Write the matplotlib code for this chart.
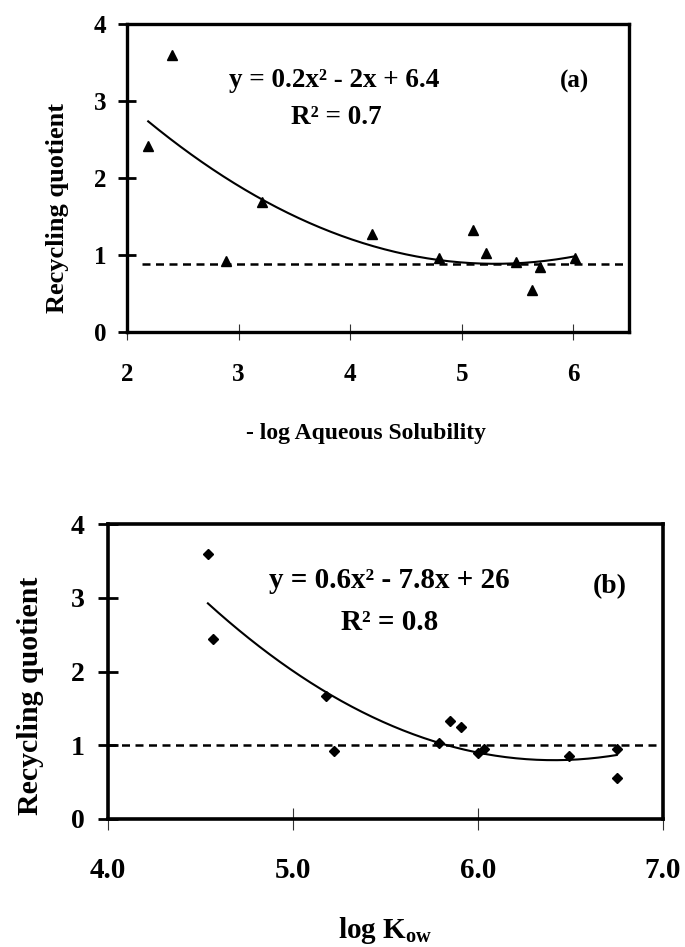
import numpy as np
import matplotlib
matplotlib.use("Agg")
import matplotlib.pyplot as plt

plt.rcParams['font.family'] = ['Liberation Serif', 'DejaVu Serif']
plt.rcParams['font.weight'] = 'bold'
plt.rcParams['axes.labelweight'] = 'bold'
plt.rcParams['mathtext.fontset'] = 'custom'
plt.rcParams['mathtext.rm'] = 'Liberation Serif:bold'
plt.rcParams['mathtext.bf'] = 'Liberation Serif:bold'
plt.rcParams['mathtext.it'] = 'Liberation Serif:bold'

# ---- data: panel (a) ----
sol_x = [2.19, 2.40, 2.89, 3.21, 4.20, 4.80, 5.10, 5.22, 5.49, 5.63, 5.70, 6.02]
sol_y = [2.42, 3.60, 0.92, 1.69, 1.27, 0.96, 1.33, 1.02, 0.91, 0.55, 0.85, 0.96]
ref_a = 0.88
eq_a = "y = 0.2x² - 2x + 6.4"
r2_a = "R² = 0.7"
xticks_a = [2, 3, 4, 5, 6]
xlabels_a = ["2", "3", "4", "5", "6"]

# ---- data: panel (b) ----
kow_x = [4.54, 4.57, 5.18, 5.22, 5.79, 5.85, 5.91, 6.00, 6.03, 6.49, 6.75, 6.75]
kow_y = [3.60, 2.44, 1.67, 0.92, 1.03, 1.33, 1.25, 0.90, 0.95, 0.86, 0.95, 0.55]
ref_b = 1.01
eq_b = "y = 0.6x² - 7.8x + 26"
r2_b = "R² = 0.8"
xticks_b = [4.0, 5.0, 6.0, 7.0]
xlabels_b = ["4.0", "5.0", "6.0", "7.0"]

yticks = [0, 1, 2, 3, 4]
ylabels = ["0", "1", "2", "3", "4"]

fig = plt.figure(figsize=(6.85, 9.47), dpi=100)
W, H = 685.0, 947.0
axA = fig.add_axes([127 / W, 1 - 332 / H, 502 / W, 308 / H])
axB = fig.add_axes([108 / W, 1 - 819 / H, 555 / W, 295 / H])


def style(ax, spine_lw, tick_fs_x, tick_fs_y, xlen, ylen, xpad, ypad):
    for s in ax.spines.values():
        s.set_linewidth(spine_lw)
    ax.tick_params(axis='x', direction='inout', length=xlen, width=0.8,
                   labelsize=tick_fs_x, pad=xpad, color='#333333')
    ax.tick_params(axis='y', direction='inout', length=ylen, width=2.0,
                   labelsize=tick_fs_y, pad=ypad)


# ---- panel (a) ----
axA.plot(sol_x, sol_y, linestyle='none', marker='^', markersize=6.5,
         color='black')
ca = np.polyfit(sol_x, sol_y, 2)
xa = np.linspace(min(sol_x), max(sol_x), 200)
axA.plot(xa, np.polyval(ca, xa), color='black', lw=1.5)
axA.plot([2.13, 6.5], [ref_a, ref_a], color='black', lw=1.8,
         dashes=(3.2, 2.2))
axA.set_xlim(2, 6.5)
axA.set_ylim(0, 4)
axA.set_xticks(xticks_a)
axA.set_xticklabels(xlabels_a)
axA.set_yticks(yticks)
axA.set_yticklabels(ylabels)
style(axA, 2.4, 18, 18, 12, 13.5, 16, 8)
axA.text(3.86, 3.27, eq_a, ha='center', va='center', fontsize=19.5)
axA.text(3.88, 2.78, r2_a, ha='center', va='center', fontsize=19.5)
axA.text(6.01, 3.26, "(a)", ha='center', va='center', fontsize=18)
axA.set_ylabel("Recycling quotient", fontsize=19, fontweight='bold')
axA.yaxis.set_label_coords(-0.139, 0.403)
axA.yaxis.label.set_va('center')
axA.set_xlabel("- log Aqueous Solubility", fontsize=17, fontweight='bold')
axA.xaxis.set_label_coords(0.477, (332 - 433) / 308.0)
axA.xaxis.label.set_va('center')

# ---- panel (b) ----
axB.plot(kow_x, kow_y, linestyle='none', marker='D', markersize=5,
         color='black')
cb = np.polyfit(kow_x, kow_y, 2)
xb = np.linspace(min(kow_x), max(kow_x), 200)
axB.plot(xb, np.polyval(cb, xb), color='black', lw=1.5)
axB.axhline(ref_b, color='black', lw=1.8, dashes=(3.2, 2.2))
axB.set_xlim(4, 7)
axB.set_ylim(0, 4)
axB.set_xticks(xticks_b)
axB.set_xticklabels(xlabels_b)
axB.set_yticks(yticks)
axB.set_yticklabels(ylabels)
style(axB, 2.6, 21, 20, 16, 15, 19, 9.5)
axB.text(5.52, 3.24, eq_b, ha='center', va='center', fontsize=21)
axB.text(5.52, 2.66, r2_b, ha='center', va='center', fontsize=21)
axB.text(6.71, 3.15, "(b)", ha='center', va='center', fontsize=20)
axB.set_ylabel("Recycling quotient", fontsize=21.5, fontweight='bold')
axB.yaxis.set_label_coords(-0.1405, 0.417)
axB.yaxis.label.set_va('center')
axB.set_xlabel(r"log K$_{\mathrm{ow}}$", fontsize=21, fontweight='bold')
axB.xaxis.set_label_coords(0.5, (819 - 930) / 295.0)
axB.xaxis.label.set_va('center')

fig.savefig("out.png", dpi=100)
